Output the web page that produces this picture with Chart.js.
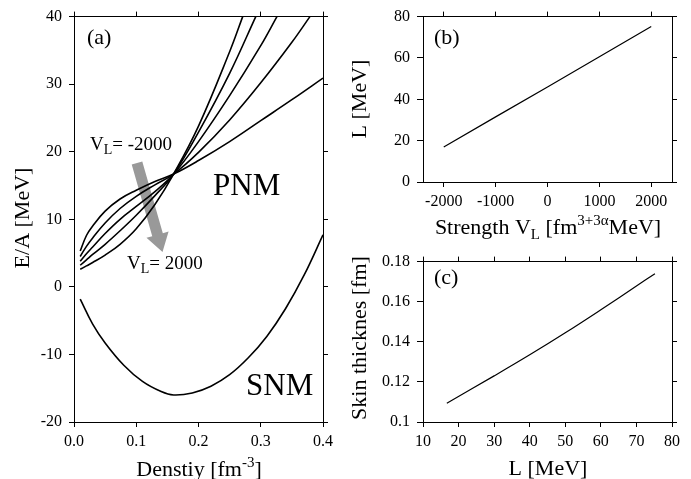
<!DOCTYPE html>
<html>
<head>
<meta charset="utf-8">
<script src="https://cdn.jsdelivr.net/npm/chart.js@4/dist/chart.umd.min.js"></script>
<style>
  body { margin: 0; background: #fff; width: 691px; height: 479px; position: relative; overflow: hidden; }
  canvas { position: absolute; }
</style>
</head>
<body>
<canvas id="chartA" width="345" height="479" style="left:0;top:0"></canvas>
<canvas id="chartB" width="346" height="245" style="left:345px;top:0"></canvas>
<canvas id="chartC" width="346" height="234" style="left:345px;top:245px"></canvas>
<script>
// tick values
const rhoTicks = [0, 0.1, 0.2, 0.3, 0.4];
const eTicks = [-20, -10, 0, 10, 20, 30, 40];
const vlTicks = [-2000, -1000, 0, 1000, 2000];
const lTicksB = [0, 20, 40, 60, 80];
const lTicksC = [10, 20, 30, 40, 50, 60, 70, 80];
const skinTicks = [0.1, 0.12, 0.14, 0.16, 0.18];

// (a) pure neutron matter, one curve per V_L
const rhoVm2000 = [0.01, 0.02, 0.03, 0.05, 0.074, 0.1, 0.13, 0.16, 0.2, 0.25, 0.3, 0.35, 0.4];
const eVm2000 = [5.3, 7.6, 9.0, 11.2, 13.0, 14.3, 15.6, 16.7, 18.7, 21.5, 24.6, 27.7, 30.9];
const rhoVm1000 = [0.01, 0.02, 0.03, 0.05, 0.074, 0.1, 0.13, 0.16, 0.2, 0.25, 0.3, 0.35, 0.379];
const eVm1000 = [4.5, 6.0, 7.25, 9.45, 11.6, 13.4, 15.1, 16.7, 19.9, 24.7, 30.2, 36.2, 40];
const rhoV0 = [0.01, 0.02, 0.03, 0.05, 0.074, 0.1, 0.13, 0.16, 0.2, 0.25, 0.3, 0.326];
const eV0 = [3.8, 4.9, 5.9, 7.9, 10.0, 11.9, 14.1, 16.7, 21.5, 28.3, 35.7, 40];
const rhoVp1000 = [0.01, 0.02, 0.03, 0.05, 0.074, 0.1, 0.13, 0.16, 0.2, 0.25, 0.292];
const eVp1000 = [3.2, 4.0, 4.8, 6.3, 8.3, 10.6, 13.5, 16.7, 22.9, 31.6, 40];
const rhoVp2000 = [0.01, 0.02, 0.03, 0.05, 0.074, 0.1, 0.13, 0.16, 0.2, 0.25, 0.271];
const eVp2000 = [2.6, 3.1, 3.6, 4.7, 6.3, 8.6, 12.2, 16.7, 23.8, 34.8, 40];

// (a) symmetric nuclear matter
const rhoSNM = [0.01, 0.03, 0.05, 0.08, 0.11, 0.14, 0.16, 0.19, 0.22, 0.25, 0.28, 0.31, 0.34, 0.37, 0.4];
const eSNM = [-1.8, -5.5, -8.3, -11.6, -14.0, -15.5, -16.0, -15.7, -14.7, -13.0, -10.5, -7.3, -3.2, 1.8, 7.7];

// (b) slope L vs strength V_L
const vlValues = [-2000, -1000, 0, 1000, 2000];
const lValues = [16.9, 31.5, 46.0, 60.6, 75.2];

// (c) skin thickness vs L
const skinL = [16.7, 30, 40, 50, 60, 70, 75.2];
const skinValues = [0.1094, 0.1230, 0.1335, 0.1445, 0.1560, 0.1678, 0.1740];

const FONT = '"Liberation Serif", "Times New Roman", serif';
const serif = size => size + 'px ' + FONT;

// text with sub/superscript pieces
function rich(ctx, parts, x, y, opt = {}) {
    ctx.save();
    ctx.translate(x, y);
    if (opt.rotate) ctx.rotate(-Math.PI / 2);
    ctx.fillStyle = '#000';
    ctx.textBaseline = 'alphabetic';
    ctx.textAlign = 'left';
    let total = 0;
    parts.forEach(p => { ctx.font = serif(p.size); total += ctx.measureText(p.text).width; });
    let cx = opt.center ? -total / 2 : 0;
    parts.forEach(p => {
        ctx.font = serif(p.size);
        ctx.fillText(p.text, cx, p.dy || 0);
        cx += ctx.measureText(p.text).width;
    });
    ctx.restore();
}

function axis(pos, min, max, values, size, tickLen, labels) {
    return {
        type: 'linear',
        position: pos,
        min: min,
        max: max,
        afterBuildTicks: s => { s.ticks = values.map(v => ({ value: v })); },
        afterFit: s => { if (s.isHorizontal()) s.height = size; else s.width = size; },
        grid: { drawOnChartArea: false, drawTicks: true, tickLength: tickLen, color: '#000', lineWidth: 1 },
        border: { display: true, color: '#000', width: 1 },
        ticks: labels
            ? { display: true, color: '#000', font: { family: FONT, size: 16 }, padding: labels.padding,
                maxRotation: 0, autoSkip: false, callback: labels.fmt }
            : { display: false }
    };
}

function series(xs, ys, width, tension) {
    return {
        data: xs.map((x, i) => ({ x: x, y: ys[i] })),
        borderColor: '#000',
        borderWidth: width,
        pointRadius: 0,
        fill: false,
        tension: tension,
        xAxisID: 'x',
        yAxisID: 'y'
    };
}

function baseOptions(padding, scales) {
    return {
        responsive: false,
        animation: false,
        events: [],
        layout: { padding: padding },
        plugins: { legend: { display: false }, tooltip: { enabled: false } },
        scales: scales
    };
}

const panelA = {
    id: 'panelA',
    beforeDatasetsDraw(chart) {
        // grey arrow behind the curves
        const ctx = chart.ctx;
        const S = [137, 163], T = [162.5, 252];
        const len = Math.hypot(T[0] - S[0], T[1] - S[1]);
        const d = [(T[0] - S[0]) / len, (T[1] - S[1]) / len];
        const n = [d[1], -d[0]];
        const B = [T[0] - 18 * d[0], T[1] - 18 * d[1]];
        const p = (c, k) => [c[0] + k * n[0], c[1] + k * n[1]];
        const pts = [p(S, 5.5), p(B, 5.5), p(B, 11.5), T, p(B, -11.5), p(B, -5.5), p(S, -5.5)];
        ctx.save();
        ctx.fillStyle = '#999999';
        ctx.beginPath();
        pts.forEach((q, i) => i ? ctx.lineTo(q[0], q[1]) : ctx.moveTo(q[0], q[1]));
        ctx.closePath();
        ctx.fill();
        ctx.restore();
    },
    afterDraw(chart) {
        const ctx = chart.ctx;
        rich(ctx, [{ text: '(a)', size: 22 }], 87, 44);
        rich(ctx, [{ text: 'V', size: 19 }, { text: 'L', size: 14, dy: 4 }, { text: '= -2000', size: 19 }], 90, 150);
        rich(ctx, [{ text: 'V', size: 19 }, { text: 'L', size: 14, dy: 4 }, { text: '= 2000', size: 19 }], 127, 269);
        rich(ctx, [{ text: 'PNM', size: 31 }], 213, 195);
        rich(ctx, [{ text: 'SNM', size: 31 }], 246, 395);
        rich(ctx, [{ text: 'E/A [MeV]', size: 22 }], 29, 218, { rotate: true, center: true });
        rich(ctx, [{ text: 'Denstiy [fm', size: 22 }, { text: '-3', size: 15, dy: -9 }, { text: ']', size: 22 }], 199, 476, { center: true });
    }
};

const panelB = {
    id: 'panelB',
    afterDraw(chart) {
        const ctx = chart.ctx;
        rich(ctx, [{ text: '(b)', size: 22 }], 89, 44);
        rich(ctx, [{ text: 'L [MeV]', size: 22 }], 21, 99, { rotate: true, center: true });
        rich(ctx, [{ text: 'Strength V', size: 22 }, { text: 'L', size: 15, dy: 5 }, { text: ' [fm', size: 22 },
                   { text: '3+3\u03b1', size: 15, dy: -9 }, { text: 'MeV]', size: 22 }], 203, 234, { center: true });
    }
};

const panelC = {
    id: 'panelC',
    afterDraw(chart) {
        const ctx = chart.ctx;
        rich(ctx, [{ text: '(c)', size: 22 }], 89, 39);
        rich(ctx, [{ text: 'Skin thicknes [fm]', size: 22 }], 21, 93, { rotate: true, center: true });
        rich(ctx, [{ text: 'L [MeV]', size: 22 }], 203, 230, { center: true });
    }
};

const num = v => String(v);

new Chart(document.getElementById('chartA'), {
    type: 'line',
    data: {
        datasets: [
            series(rhoVm2000, eVm2000, 1.6, 0.4),
            series(rhoVm1000, eVm1000, 1.6, 0.4),
            series(rhoV0, eV0, 1.6, 0.4),
            series(rhoVp1000, eVp1000, 1.6, 0.4),
            series(rhoVp2000, eVp2000, 1.6, 0.4),
            series(rhoSNM, eSNM, 1.6, 0.4)
        ]
    },
    options: baseOptions({ left: 0, right: 17, top: 10, bottom: 0 }, {
        x: axis('bottom', 0, 0.4, rhoTicks, 57, 5, { padding: 5, fmt: v => v.toFixed(1) }),
        x2: axis('top', 0, 0.4, rhoTicks, 5, 5, null),
        y: axis('left', -20, 40, eTicks, 74, 5, { padding: 7, fmt: num }),
        y2: axis('right', -20, 40, eTicks, 5, 5, null)
    }),
    plugins: [panelA]
});

new Chart(document.getElementById('chartB'), {
    type: 'line',
    data: { datasets: [series(vlValues, lValues, 1.2, 0)] },
    options: baseOptions({ left: 0, right: 14, top: 10, bottom: 0 }, {
        x: axis('bottom', -2400, 2400, vlTicks, 63, 5, { padding: 5, fmt: num }),
        x2: axis('top', -2400, 2400, vlTicks, 5, 5, null),
        y: axis('left', 0, 80, lTicksB, 78, 6, { padding: 7, fmt: num }),
        y2: axis('right', 0, 80, lTicksB, 5, 5, null)
    }),
    plugins: [panelB]
});

new Chart(document.getElementById('chartC'), {
    type: 'line',
    data: { datasets: [series(skinL, skinValues, 1.2, 0.4)] },
    options: baseOptions({ left: 0, right: 14, top: 5, bottom: 0 }, {
        x: axis('bottom', 10, 80, lTicksC, 57, 5, { padding: 5, fmt: num }),
        x2: axis('top', 10, 80, lTicksC, 5, 5, null),
        y: axis('left', 0.1, 0.18, skinTicks, 78, 6, { padding: 7, fmt: v => String(+v.toFixed(2)) }),
        y2: axis('right', 0.1, 0.18, skinTicks, 5, 5, null)
    }),
    plugins: [panelC]
});
</script>
</body>
</html>
